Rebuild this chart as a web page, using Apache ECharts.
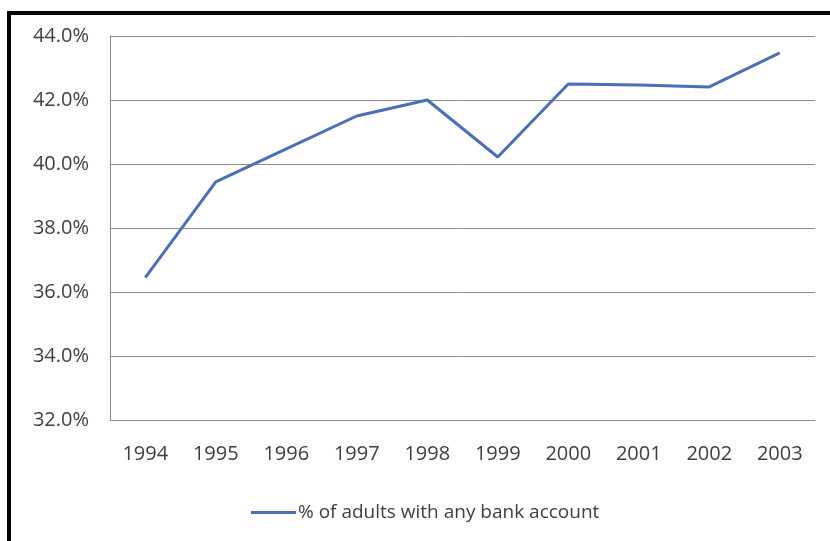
<!DOCTYPE html>
<html>
<head>
<meta charset="utf-8">
<script src="https://cdn.jsdelivr.net/npm/echarts@6/dist/echarts.min.js"></script>
<style>
  html, body { margin: 0; padding: 0; background: #fff; }
  #frame {
    position: absolute; left: 7px; top: 11px; width: 830px; height: 540px;
    border-left: 4px solid #000; border-top: 4px solid #000;
  }
  #chart { position: absolute; left: 0; top: 0; width: 830px; height: 541px; }
</style>
</head>
<body>
<div id="frame"></div>
<div id="chart"></div>
<script>
// 年份
const years = ['1994', '1995', '1996', '1997', '1998', '1999', '2000', '2001', '2002', '2003'];
// 有银行账户的成年人比例 (%)
const accountShare = [36.45, 39.44, 40.47, 41.5, 42.0, 40.22, 42.5, 42.47, 42.41, 43.47];
const seriesName = '% of adults with any bank account';

let myChart = echarts.init(document.getElementById('chart'));
let options = {
    animation: false,
    grid: { left: 110, right: 15, top: 36, bottom: 121 },
    legend: {
        bottom: 14,
        left: 246,
        itemWidth: 45,
        itemHeight: 3,
        icon: 'rect',
        itemGap: 4,
        textStyle: { fontFamily: 'Open Sans', fontSize: 19, color: '#404040', padding: [0, 0, 0, -3] },
        data: [seriesName]
    },
    xAxis: {
        type: 'category',
        data: years,
        axisLine: { lineStyle: { color: '#8c8c8c', width: 1 } },
        axisTick: { show: false },
        axisLabel: { fontFamily: 'Open Sans', fontSize: 20, color: '#404040', margin: 24 }
    },
    yAxis: {
        type: 'value',
        min: 32,
        max: 44,
        interval: 2,
        axisLine: { show: true, lineStyle: { color: '#8c8c8c', width: 1 } },
        axisTick: { show: false },
        splitLine: { lineStyle: { color: '#8c8c8c', width: 1 } },
        axisLabel: {
            fontFamily: 'Open Sans', fontSize: 20, color: '#404040', margin: 21,
            formatter: v => v.toFixed(1) + '%'
        }
    },
    series: [
        {
            name: seriesName,
            type: 'line',
            data: accountShare,
            symbol: 'none',
            lineStyle: { color: '#4a6fbb', width: 3 },
            itemStyle: { color: '#4a6fbb' }
        }
    ]
};
myChart.setOption(options);
</script>
</body>
</html>
